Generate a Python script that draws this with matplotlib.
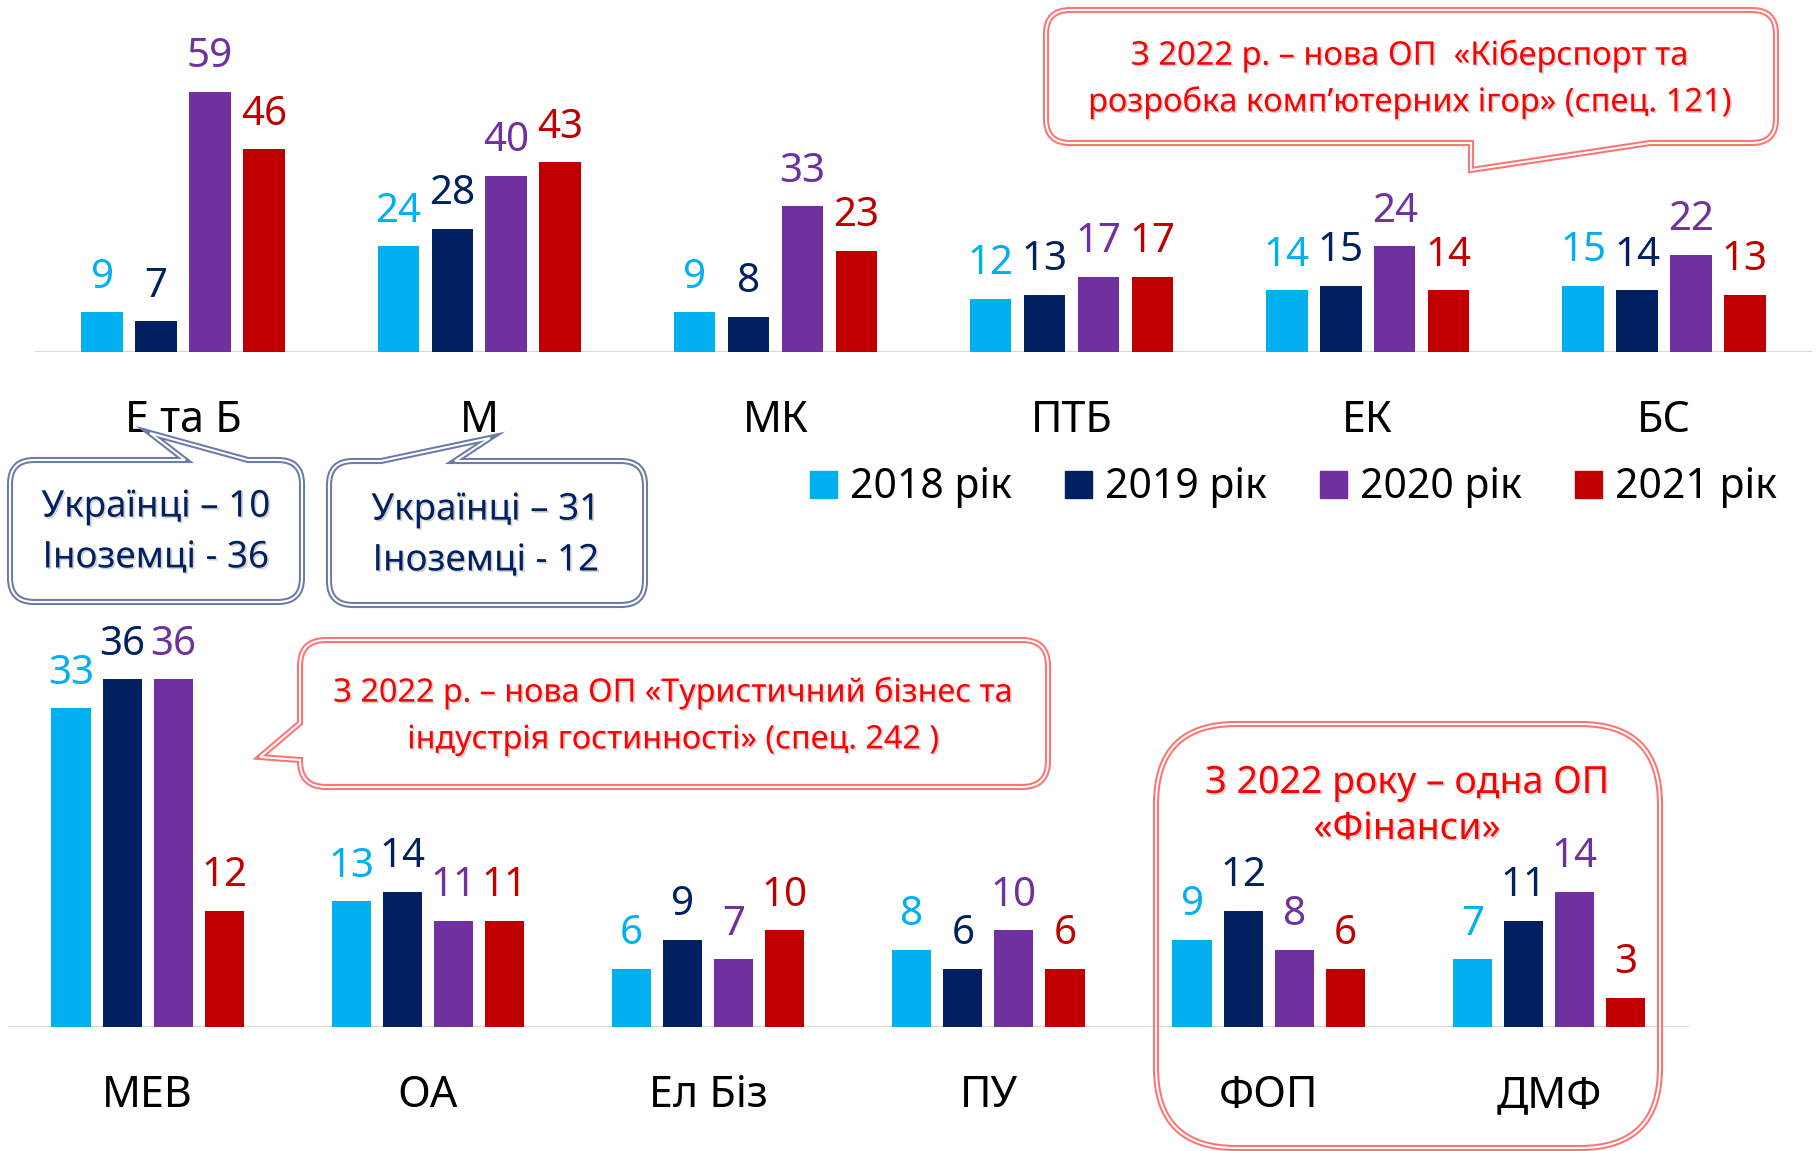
import matplotlib
matplotlib.use("Agg")
import matplotlib.pyplot as plt
import numpy as np
from matplotlib import font_manager
from matplotlib import patheffects
from matplotlib.patches import PathPatch, Rectangle
from matplotlib.path import Path

# --- data ---
YEARS = ["2018 рік", "2019 рік", "2020 рік", "2021 рік"]
COLORS = ["#00B0F0", "#002060", "#7030A0", "#C00000"]

TOP_CATS = ["Е та Б", "М", "МК", "ПТБ", "ЕК", "БС"]
TOP_2018 = [9, 24, 9, 12, 14, 15]
TOP_2019 = [7, 28, 8, 13, 15, 14]
TOP_2020 = [59, 40, 33, 17, 24, 22]
TOP_2021 = [46, 43, 23, 17, 14, 13]

BOT_CATS = ["МЕВ", "ОА", "Ел Біз", "ПУ", "ФОП", "ДМФ"]
BOT_2018 = [33, 13, 6, 8, 9, 7]
BOT_2019 = [36, 14, 9, 6, 12, 11]
BOT_2020 = [36, 11, 7, 10, 8, 14]
BOT_2021 = [12, 11, 10, 6, 6, 3]

NOTE_CYBER = "З 2022 р. – нова ОП  «Кіберспорт та\nрозробка комп’ютерних ігор» (спец. 121)"
NOTE_EB = "Українці – 10\nІноземці - 36"
NOTE_M = "Українці – 31\nІноземці - 12"
NOTE_TOUR = "З 2022 р. – нова ОП «Туристичний бізнес та\nіндустрія гостинності» (спец. 242 )"
NOTE_FIN = ["З 2022 року – одна ОП", "«Фінанси»"]

available = {f.name for f in font_manager.fontManager.ttflist}
FONT = "Liberation Sans Narrow" if "Liberation Sans Narrow" in available else "Noto Sans"
plt.rcParams["font.family"] = [FONT, "DejaVu Sans"]

W, H = 1816, 1151
RED_LINE = "#FF7373"
BLUE_LINE = "#6A7BA6"
STEP = 0.182
BAR_W = 0.14


def draw_group(ax, cats, series, ymax):
    x = np.arange(len(cats))
    for i, (vals, col) in enumerate(zip(series, COLORS)):
        bars = ax.bar(x + (i - 1.5) * STEP, vals, BAR_W, color=col, zorder=2)
        ax.bar_label(bars, padding=10.5, color=col, fontsize=29)
    for xi, name in zip(x, cats):
        ax.annotate(name, (xi, 0), xytext=(0, -57.5), textcoords="offset points",
                    ha="center", va="baseline", fontsize=31)
    ax.axhline(0, color="#D9D9D9", lw=1.6, zorder=1)
    ax.set_xlim(-0.5, len(cats) - 0.5)
    ax.set_ylim(0, ymax)
    ax.axis("off")


def bubble(ax, box, r, color, pointer=None, fill="white"):
    x0, y0, x1, y1 = box
    verts, codes = [(x0 + r, y0)], [Path.MOVETO]

    def line(*pts):
        for p in pts:
            verts.append(p)
            codes.append(Path.LINETO)

    def corner(c, e):
        verts.extend([c, e])
        codes.extend([Path.CURVE3, Path.CURVE3])

    side = pointer[0] if pointer else None
    if side == "top":
        a, b, tip = pointer[1:]
        line((a, y0), tip, (b, y0))
    line((x1 - r, y0))
    corner((x1, y0), (x1, y0 + r))
    line((x1, y1 - r))
    corner((x1, y1), (x1 - r, y1))
    if side == "bottom":
        a, b, tip = pointer[1:]
        line((b, y1), tip, (a, y1))
    line((x0 + r, y1))
    corner((x0, y1), (x0, y1 - r))
    if side == "left":
        a, b, tip = pointer[1:]
        line((x0, b), tip, (x0, a))
    line((x0, y0 + r))
    corner((x0, y0), (x0 + r, y0))
    verts.append((x0 + r, y0))
    codes.append(Path.CLOSEPOLY)
    path = Path(verts, codes)
    ax.add_patch(PathPatch(path, facecolor=fill, edgecolor=color, lw=4.4, joinstyle="miter"))
    ax.add_patch(PathPatch(path, facecolor="none", edgecolor="white", lw=1.5, joinstyle="miter"))


def note(ax, x, y, s, color, size, gap=1.55):
    shadow = [patheffects.withSimplePatchShadow(offset=(1.2, -1.2), shadow_rgbFace="#7F7F7F", alpha=0.35)]
    ax.text(x, y, s, ha="center", va="center", color=color, fontsize=size,
            linespacing=gap, path_effects=shadow)


fig = plt.figure(figsize=(W / 100, H / 100), dpi=100)

top = fig.add_axes([35 / W, 1 - 352 / H, 1777 / W, 70 * 4.41 / H])
draw_group(top, TOP_CATS, [TOP_2018, TOP_2019, TOP_2020, TOP_2021], 70)

bot = fig.add_axes([7.5 / W, 1 - 1027 / H, 1681.5 / W, 40 * 9.66 / H])
draw_group(bot, BOT_CATS, [BOT_2018, BOT_2019, BOT_2020, BOT_2021], 40)

ov = fig.add_axes([0, 0, 1, 1], zorder=5)
ov.set_xlim(0, W)
ov.set_ylim(H, 0)
ov.axis("off")

# legend
for k, (name, col) in enumerate(zip(YEARS, COLORS)):
    lx = 810 + k * 255
    ov.add_patch(Rectangle((lx, 471), 27, 27, color=col))
    ov.text(lx + 40, 498, name, fontsize=29.5, va="baseline", ha="left")

# callouts
bubble(ov, (1046, 10, 1776, 143), 24, RED_LINE, ("bottom", 1471, 1650, (1471, 170)))
note(ov, 1410, 79, NOTE_CYBER, "#FF0000", 23.5, 1.48)

bubble(ov, (10, 460, 302, 602), 24, BLUE_LINE, ("top", 185, 248, (150, 433)))
note(ov, 156, 533, NOTE_EB, "#002060", 26.5)

bubble(ov, (329, 461, 645, 605), 24, BLUE_LINE, ("top", 381, 455, (490, 438)))
note(ov, 486, 536, NOTE_M, "#002060", 26.5)

bubble(ov, (300, 640, 1048, 787), 26, RED_LINE, ("left", 723, 760, (260, 757)))
note(ov, 673, 716, NOTE_TOUR, "#FF0000", 23.3)

bubble(ov, (1156, 724, 1660, 1148), 80, RED_LINE, fill="none")
note(ov, 1407, 783, NOTE_FIN[0], "#FF0000", 27)
note(ov, 1407, 829, NOTE_FIN[1], "#FF0000", 27)

fig.savefig("out.png", dpi=100)
